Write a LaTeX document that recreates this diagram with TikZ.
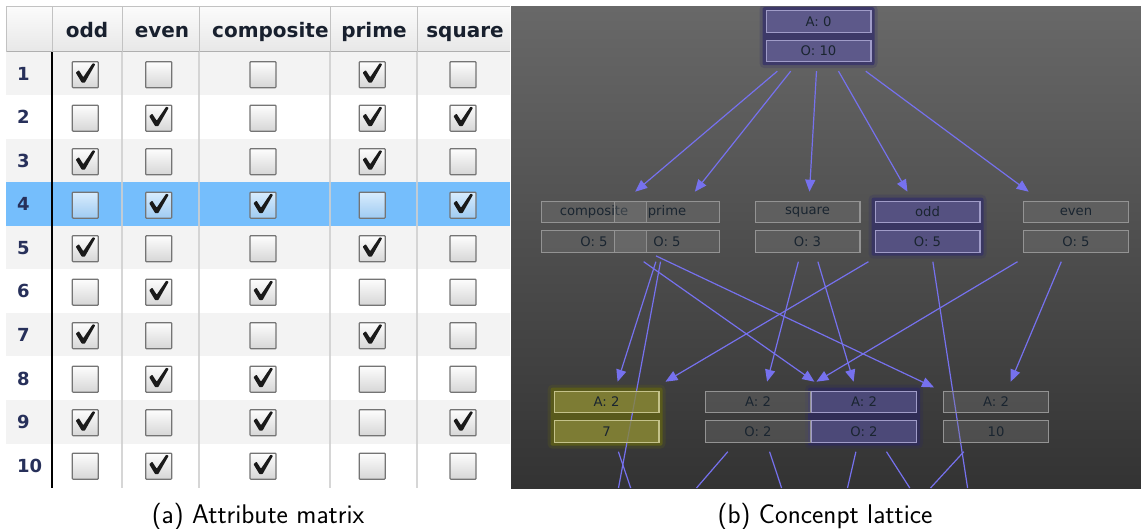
\documentclass[tikz,border=0pt]{standalone}
\usepackage{fontspec}
\usetikzlibrary{arrows.meta}
\newfontfamily\uifont{DejaVu Sans}
\definecolor{rowodd}{HTML}{F3F3F3}
\definecolor{rowsel}{HTML}{75BEFC}
\definecolor{hdtop}{HTML}{FBFBFB}
\definecolor{hdbot}{HTML}{E7E7E7}
\definecolor{hdline}{HTML}{C2C2C2}
\definecolor{colsep}{HTML}{CFCFCF}
\definecolor{hdtext}{HTML}{18202E}
\definecolor{numtext}{HTML}{27305A}
\definecolor{cbborder}{HTML}{747474}
\definecolor{cbtop}{HTML}{FDFDFD}
\definecolor{cbbot}{HTML}{D6D6D6}
\definecolor{cbseltop}{HTML}{D8ECFD}
\definecolor{cbselbot}{HTML}{9FCBF2}
\definecolor{checkc}{HTML}{1A1A1A}
\definecolor{pantop}{HTML}{686868}
\definecolor{panbot}{HTML}{333333}
\definecolor{edgec}{HTML}{7671EE}
\definecolor{gfill}{HTML}{808080}
\definecolor{gdraw}{HTML}{939393}
\definecolor{boxtext}{HTML}{1A2530}
\definecolor{pdraw}{HTML}{A09CC8}
\definecolor{pfillA}{HTML}{5D598A}
\definecolor{pfillB}{HTML}{555181}
\definecolor{pfillC}{HTML}{4C4978}
\definecolor{pglowA}{HTML}{3D3968}
\definecolor{pglowB}{HTML}{393662}
\definecolor{pglowC}{HTML}{302D56}
\definecolor{yfill}{HTML}{86853A}
\definecolor{ydraw}{HTML}{C4C28A}
\definecolor{yglow}{HTML}{595A1C}
\newcommand\glowbox[2]{%
  \fill[#2, opacity=0.3, rounded corners=5pt] ([shift={(-59,-32)}]#1.center) rectangle ([shift={(59,32)}]#1.center);
  \fill[#2, rounded corners=2pt] ([shift={(-56,-29)}]#1.center) rectangle ([shift={(56,29)}]#1.center);}
\begin{document}
\begin{tikzpicture}[x=1pt,y=-1pt,
  hdr/.style={font=\uifont\bfseries\fontsize{20}{20}\selectfont, text=hdtext, inner sep=0},
  rownum/.style={font=\uifont\bfseries\fontsize{18}{18}\selectfont, text=numtext, inner sep=0},
  cbox/.style={draw=cbborder, line width=1.2pt, minimum size=26pt, inner sep=0, top color=cbtop, bottom color=cbbot, rounded corners=0.8pt},
  cboxsel/.style={cbox, top color=cbseltop, bottom color=cbselbot},
  checkmark/.pic={\fill[checkc, rounded corners=0.6pt] (-9.5,-2) -- (-6.5,-4.5) -- (-2,2.5) -- (7.5,-11.5) -- (10,-10.5) -- (-0.5,8) -- (-3.5,8) -- cycle;},
  cnode/.style={rectangle, minimum width=106pt, minimum height=52pt, inner sep=0, outer xsep=9pt, outer ysep=9pt},
  lbox/.style={draw=gdraw, line width=1.2pt, minimum width=104.8pt, minimum height=21.5pt, inner sep=0, text=boxtext, font=\uifont\fontsize{13.2}{13.2}\selectfont},
  gbox/.style={lbox, fill=gfill, fill opacity=0.3, text opacity=1},
  pbox/.style={lbox, draw=pdraw, fill=#1},
  ybox/.style={lbox, draw=ydraw, fill=yfill, fill opacity=0.8, text opacity=1},
  edge/.style={draw=edgec, line width=1.2pt},
  arr/.style={edge, -{Triangle[length=12pt,width=10pt]}},
  caption/.style={font=\sffamily\fontsize{27}{27}\selectfont, inner sep=0}
]
\useasboundingbox (0,0) rectangle (1141,529);
\fill[white] (0,0) rectangle (1141,529);
% ---------- table ----------
\foreach \r in {1,3,5,7,9} \fill[rowodd] (6,{52+43.5*(\r-1)}) rectangle (510,{52+43.5*\r});
\fill[rowsel] (6,182.5) rectangle (510,226);
\shade[top color=hdtop, bottom color=hdbot] (6,7) rectangle (510,52);
\draw[hdline, line width=1pt] (6,7) -- (510,7);
\draw[hdline!90!black, line width=1pt] (6,52) -- (510,52);
\draw[hdline, line width=1pt] (6,7) -- (6,52);
\foreach \x in {52,122,199,330,417} \draw[hdline, line width=1pt] (\x,7) -- (\x,52);
\foreach \x in {122,199,330,417} \draw[colsep, line width=1.5pt, opacity=0.85] (\x,52) -- (\x,488);
\draw[black, line width=1.2pt] (52,52) -- (52,488);
\node[hdr, anchor=base] (h-odd) at (87,37.3) {odd};
\node[hdr, anchor=base] (h-even) at (162,37.3) {even};
\begin{scope}
\clip (199,7) rectangle (329.3,52);
\node[hdr, anchor=base west] (h-comp) at (212,37.3) {composite};
\end{scope}
\node[hdr, anchor=base] (h-prime) at (374,37.3) {prime};
\node[hdr, anchor=base] (h-square) at (465,37.3) {square};
\foreach \r in {1,...,10} {
  \node[rownum, anchor=base west] (r-\r) at (17,{74.7+43.5*(\r-1)+5.8}) {\r};
  \foreach \c/\x in {1/85.3,2/158.7,3/263,4/372.2,5/463} {
    \ifnum\r=4 \def\cbst{cboxsel}\else\def\cbst{cbox}\fi
    \node[\cbst] (cb-\r-\c) at (\x,{74.7+43.5*(\r-1)}) {};
  }
}
\foreach \r/\c in {1/1,1/4,2/2,2/4,2/5,3/1,3/4,4/2,4/3,4/5,5/1,5/4,6/2,6/3,7/1,7/4,8/2,8/3,9/1,9/3,9/5,10/2,10/3}
  \pic at (cb-\r-\c) {checkmark};
% ---------- lattice ----------
\begin{scope}
\clip (511,7) rectangle (1141,488);
\shade[top color=pantop, bottom color=panbot] (511,7) rectangle (1141,488);
\node[cnode] (top) at (818.5,36.2) {};
\node[cnode] (comp) at (594,226.7) {};
\node[cnode] (prime) at (667,226.7) {};
\node[cnode] (square) at (807.5,226.7) {};
\node[cnode] (odd) at (927.5,226.7) {};
\node[cnode] (even) at (1076,226.7) {};
\node[cnode] (b7) at (606.5,416.7) {};
\node[cnode] (b2) at (758,416.7) {};
\node[cnode] (b3) at (864,416.7) {};
\node[cnode] (b10) at (996,416.7) {};
\coordinate (dP) at (618.5,488);
\coordinate (dO) at (967.6,488);
\coordinate (d7) at (630.7,488);
\coordinate (d2a) at (696.5,488);
\coordinate (d2b) at (781.6,488);
\coordinate (d3a) at (847.5,488);
\coordinate (d3b) at (909.8,488);
\coordinate (d10) at (930.5,488);
\glowbox{top}{pglowA}
\glowbox{odd}{pglowB}
\glowbox{b3}{pglowC}
\glowbox{b7}{yglow}
\foreach \a/\b in {top/comp,top/prime,top/square,top/odd,top/even,comp/b3,comp/b10,prime/b7,square/b2,square/b3,odd/b7,even/b2,even/b10}
  \draw[arr] (\a) -- (\b);
\foreach \a/\b in {prime/dP,odd/dO,b7/d7,b2/d2a,b2/d2b,b3/d3a,b3/d3b,b10/d10}
  \draw[edge] (\a) -- (\b);
\node[pbox=pfillA] (top-a) at ([yshift=14.7pt]top.center) {A: 0};
\node[pbox=pfillA] (top-o) at ([yshift=-14.7pt]top.center) {O: 10};
\node[gbox] (comp-a) at ([yshift=14.7pt]comp.center) {composite};
\node[gbox] (comp-o) at ([yshift=-14.7pt]comp.center) {O: 5};
\node[gbox] (prime-a) at ([yshift=14.7pt]prime.center) {prime};
\node[gbox] (prime-o) at ([yshift=-14.7pt]prime.center) {O: 5};
\node[gbox] (square-a) at ([yshift=14.7pt]square.center) {square};
\node[gbox] (square-o) at ([yshift=-14.7pt]square.center) {O: 3};
\node[pbox=pfillB] (odd-a) at ([yshift=14.7pt]odd.center) {odd};
\node[pbox=pfillB] (odd-o) at ([yshift=-14.7pt]odd.center) {O: 5};
\node[gbox] (even-a) at ([yshift=14.7pt]even.center) {even};
\node[gbox] (even-o) at ([yshift=-14.7pt]even.center) {O: 5};
\node[ybox] (b7-a) at ([yshift=14.7pt]b7.center) {A: 2};
\node[ybox] (b7-o) at ([yshift=-14.7pt]b7.center) {7};
\node[gbox] (b2-a) at ([yshift=14.7pt]b2.center) {A: 2};
\node[gbox] (b2-o) at ([yshift=-14.7pt]b2.center) {O: 2};
\node[pbox=pfillC] (b3-a) at ([yshift=14.7pt]b3.center) {A: 2};
\node[pbox=pfillC] (b3-o) at ([yshift=-14.7pt]b3.center) {O: 2};
\node[gbox] (b10-a) at ([yshift=14.7pt]b10.center) {A: 2};
\node[gbox] (b10-o) at ([yshift=-14.7pt]b10.center) {10};
\end{scope}
% ---------- captions ----------
\node[caption, anchor=base] (capA) at (258,523) {(a) Attribute matrix};
\node[caption, anchor=base] (capB) at (825,523) {(b) Concenpt lattice};
\end{tikzpicture}
\end{document}
